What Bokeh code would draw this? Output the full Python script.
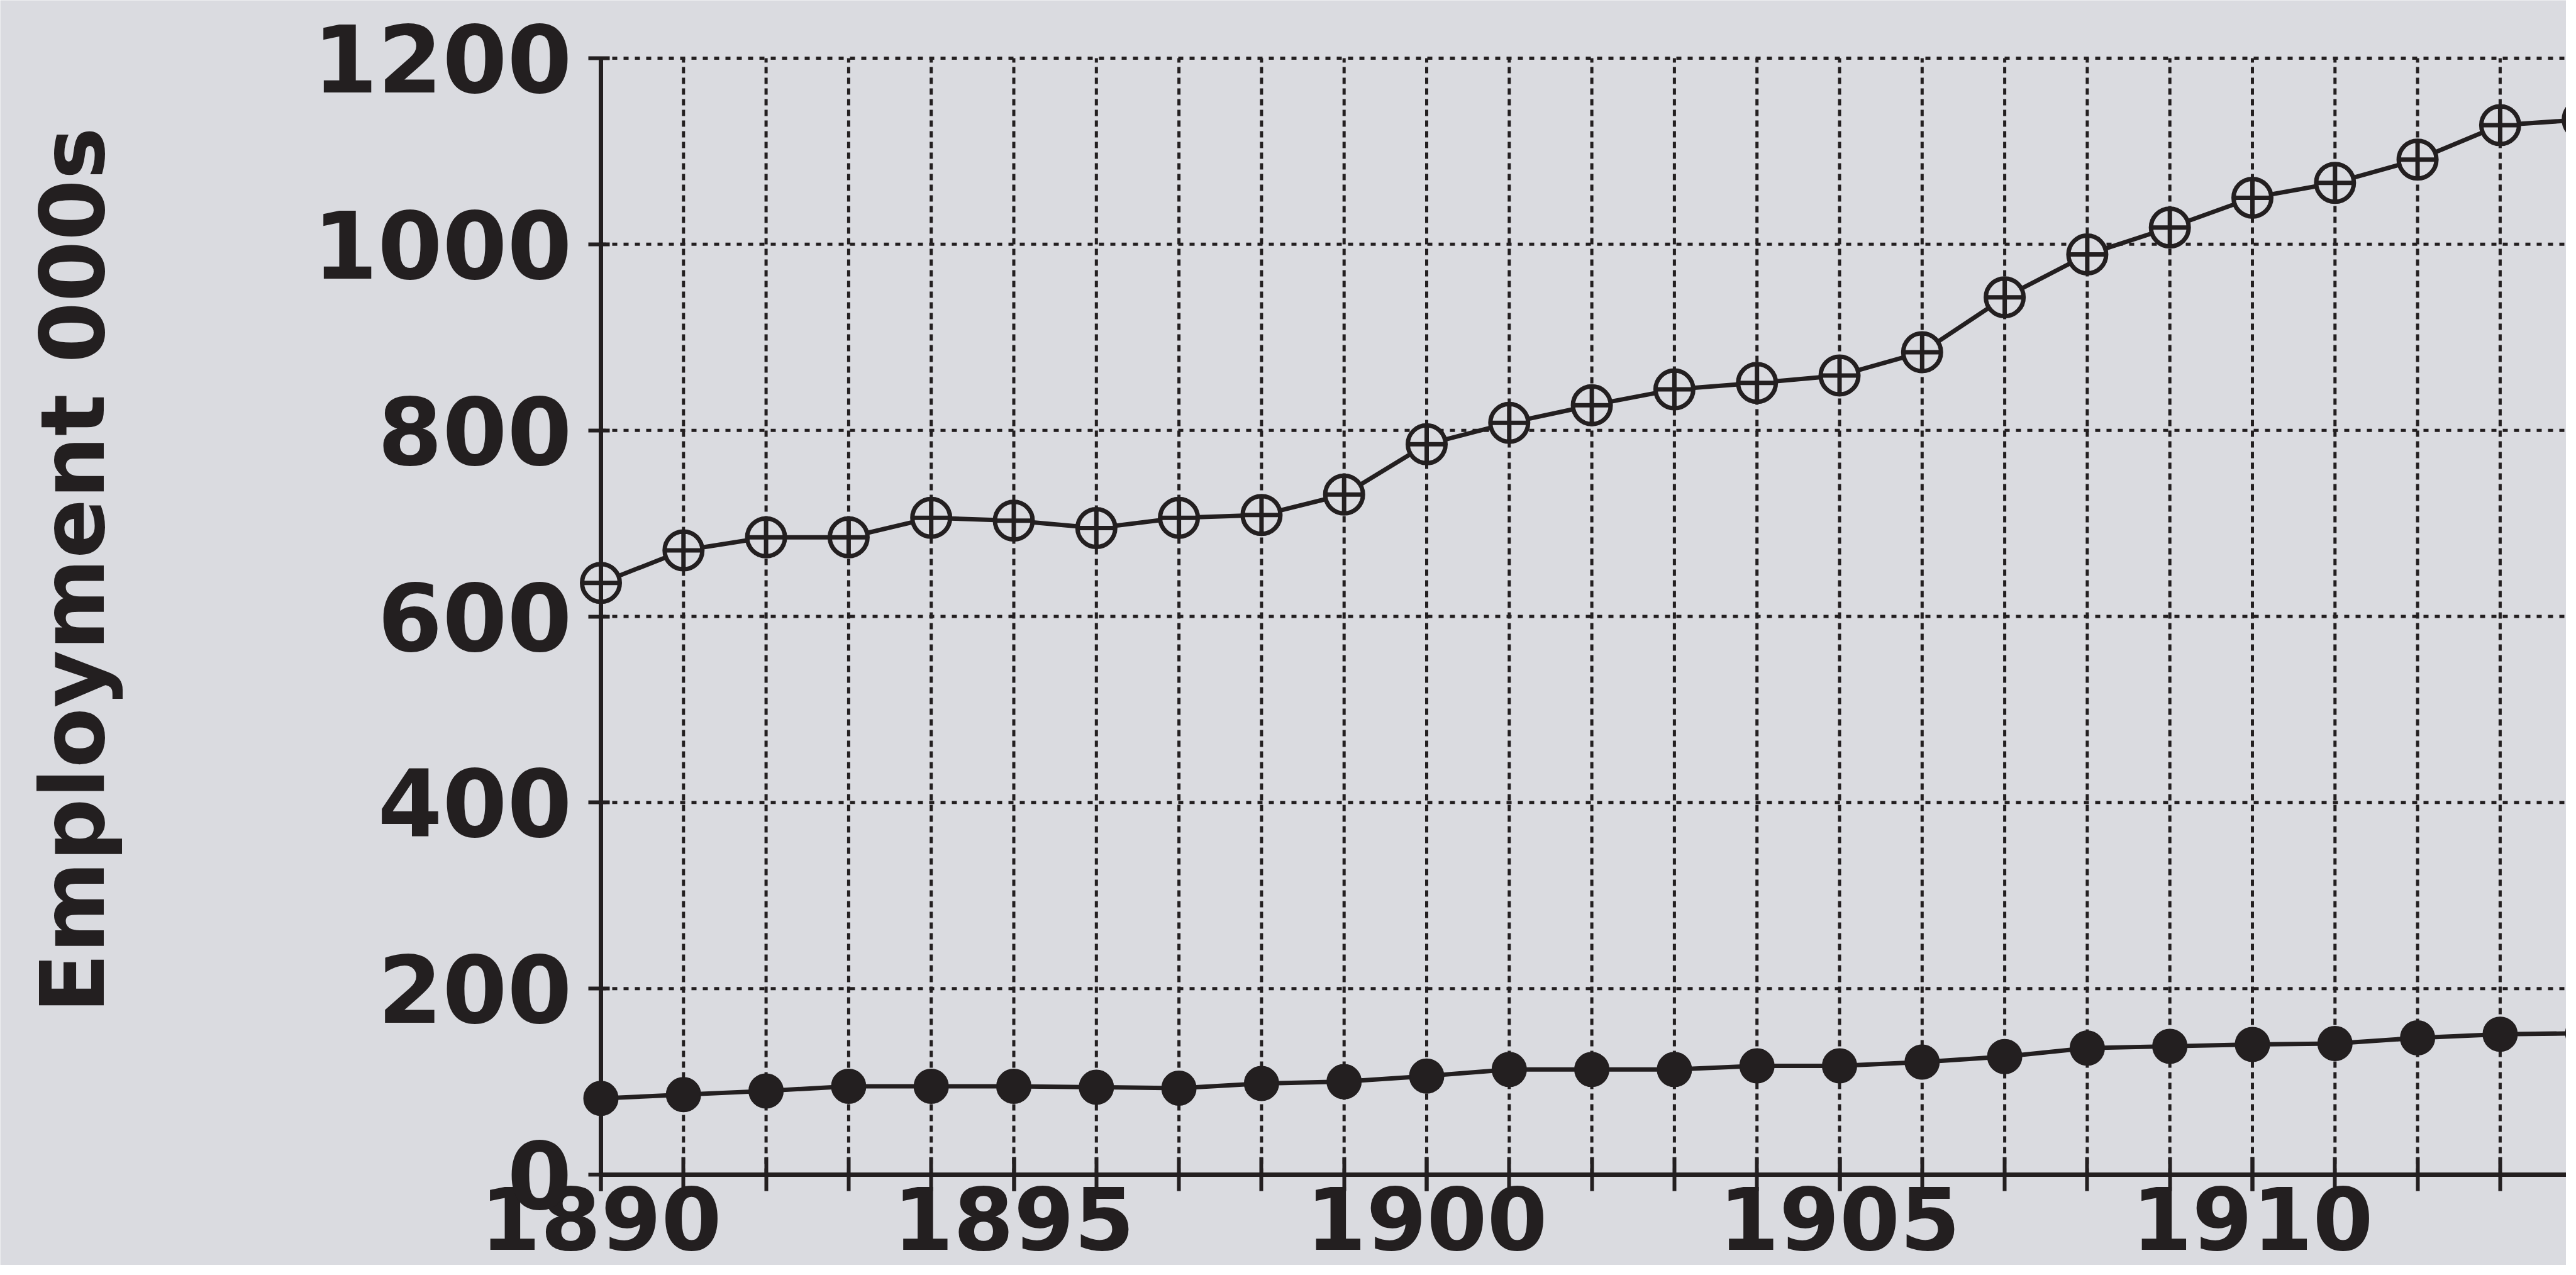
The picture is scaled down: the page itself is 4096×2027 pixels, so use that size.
import math
from bokeh.plotting import figure
from bokeh.models import FixedTicker, Label, Range1d
from bokeh.embed import file_html
from bokeh.resources import INLINE

# ---- data ----
years = list(range(1890, 1915))
upper_series = [636, 671, 685, 685, 706, 703, 695, 706, 709, 731,
                785, 808, 827, 844, 851, 859, 884, 943, 989, 1018,
                1050, 1066, 1091, 1128, 1134]
lower_series = [82, 86, 90, 95, 95, 95, 94, 93, 98, 100,
                106, 113, 113, 113, 117, 117, 121, 127, 136, 138,
                140, 141, 147, 151, 152]
x_label_years = [1890, 1895, 1900, 1905, 1910]
y_ticks = [0, 200, 400, 600, 800, 1000, 1200]
y_title = "Employment 000s"

# ---- styling / layout ----
INK = "#231f20"
BG = "#dadbe0"
FONT = "DejaVu Sans"

W, H = 4080, 2011
AXIS_X_PX = 955        # canvas x of the y axis
PX_PER_YEAR = 131.3
TOP_PX = 92            # canvas y of the top gridline
ZERO_PX = 1867         # canvas y of the x axis
PX_PER_UNIT = (ZERO_PX - TOP_PX) / (y_ticks[-1] - y_ticks[0])

x0 = years[0]
x_min = x0 - AXIS_X_PX / PX_PER_YEAR
x_max = x0 + (W - AXIS_X_PX) / PX_PER_YEAR
y_max = y_ticks[-1] + TOP_PX / PX_PER_UNIT
y_min = y_ticks[0] - (H - ZERO_PX) / PX_PER_UNIT

p = figure(width=W, height=H,
           x_range=Range1d(x_min, x_max), y_range=Range1d(y_min, y_max),
           output_backend="svg", toolbar_location=None,
           min_border_left=0, min_border_right=0,
           min_border_top=0, min_border_bottom=0)
p.background_fill_color = BG
p.border_fill_color = BG
p.outline_line_color = None
p.xgrid.visible = False
p.ygrid.visible = False

# dotted grid (limited to the data area, as in the reference)
nx, ny = len(years), len(y_ticks)
p.segment(x0=years, y0=[y_ticks[0]] * nx, x1=years, y1=[y_ticks[-1]] * nx,
          line_color=INK, line_width=5, line_dash="10 7")
p.segment(x0=[x0] * ny, y0=y_ticks, x1=[x_max] * ny, y1=y_ticks,
          line_color=INK, line_width=5, line_dash="8 10")

# axes
xt = FixedTicker(ticks=x_label_years, minor_ticks=years)
yt = FixedTicker(ticks=y_ticks)
p.xaxis.ticker = xt
p.yaxis.ticker = yt
p.xaxis.fixed_location = y_ticks[0]
p.yaxis.fixed_location = x0
p.xaxis.bounds = (x0, x_max)
p.yaxis.bounds = (y_ticks[0], y_ticks[-1])

for ax in (p.xaxis[0], p.yaxis[0]):
    ax.axis_line_color = INK
    ax.axis_line_width = 7
    ax.major_tick_line_color = INK
    ax.major_tick_line_width = 6
    ax.minor_tick_line_color = INK
    ax.minor_tick_line_width = 6
    ax.major_label_text_font = FONT
    ax.major_label_text_font_style = "bold"
    ax.major_label_text_color = INK

p.yaxis.major_label_text_font_size = "148px"
p.xaxis.major_label_text_font_size = "138px"

p.xaxis.major_tick_in = 28
p.xaxis.major_tick_out = 26
p.xaxis.minor_tick_in = 28
p.xaxis.minor_tick_out = 26
p.xaxis.major_label_standoff = -8

p.yaxis.major_tick_in = 14
p.yaxis.major_tick_out = 20
p.yaxis.minor_tick_line_color = None
p.yaxis.major_label_standoff = 26

# series
p.line(years, upper_series, line_color=INK, line_width=7)
p.scatter(years, upper_series, marker="circle_cross", size=60,
          fill_color=BG, line_color=INK, line_width=7)
p.line(years, lower_series, line_color=INK, line_width=7)
p.scatter(years, lower_series, marker="circle", size=54,
          fill_color=INK, line_color=INK, line_width=2)

# y-axis title
title_x = x_min + 116 / PX_PER_YEAR
title_y = y_max - 906 / PX_PER_UNIT
p.add_layout(Label(x=title_x, y=title_y, text=y_title, angle=math.pi / 2,
                   text_align="center", text_baseline="middle",
                   text_font=FONT, text_font_style="bold",
                   text_font_size="140px", text_color=INK))

open("out.html", "w").write(file_html(p, INLINE))
